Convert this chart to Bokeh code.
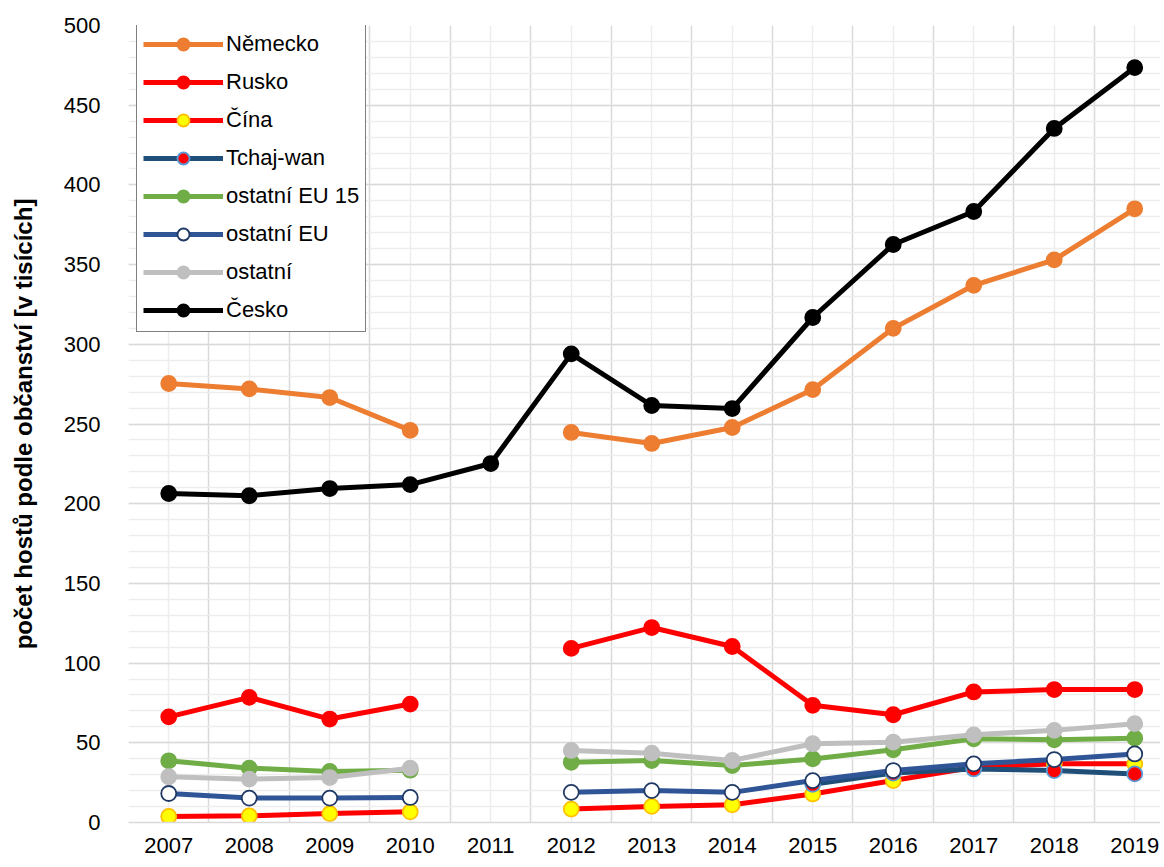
import math
from bokeh.plotting import figure
from bokeh.models import FixedTicker, Legend, LegendItem
from bokeh.embed import file_html
from bokeh.resources import INLINE

nan = float("nan")
years = list(range(2007, 2020))
tick_labels = [str(y) for y in years]

nemecko   = [275.4, 272.0, 266.6, 246.0, nan, 244.7, 237.8, 247.8, 271.6, 310.0, 337.0, 353.0, 385.0]
rusko     = [66.3, 78.5, 64.9, 74.3, nan, 109.2, 122.3, 110.4, 73.5, 67.6, 81.9, 83.4, 83.4]
cina      = [3.8, 4.2, 5.6, 6.7, nan, 8.4, 10.1, 11.1, 17.9, 26.3, 34.7, 36.8, 36.8]
tchajwan  = [nan, nan, nan, nan, nan, nan, nan, nan, 24.0, 31.0, 33.6, 32.6, 30.5]
eu15      = [38.7, 34.1, 32.0, 32.8, nan, 37.8, 38.9, 35.7, 39.9, 45.6, 52.5, 51.9, 52.9]
ostatni_eu = [18.2, 15.3, 15.3, 15.7, nan, 18.9, 20.0, 18.9, 26.3, 32.6, 36.8, 39.5, 43.0]
ostatni   = [28.7, 27.2, 28.2, 34.1, nan, 45.2, 43.5, 38.9, 49.4, 50.4, 55.0, 57.8, 62.0]
cesko     = [206.4, 205.0, 209.5, 212.0, 225.2, 294.0, 261.6, 259.7, 316.8, 362.6, 383.3, 435.4, 473.6]

series = [
    ("Německo", nemecko, "#ED7D31", "#ED7D31", "#ED7D31"),
    ("Rusko", rusko, "#FF0000", "#FF0000", "#FF0000"),
    ("Čína", cina, "#FF0000", "#FFFF00", "#FFC000"),
    ("Tchaj-wan", tchajwan, "#1F4E79", "#FF0000", "#5B9BD5"),
    ("ostatní EU 15", eu15, "#70AD47", "#70AD47", "#70AD47"),
    ("ostatní EU", ostatni_eu, "#2F5597", "#FFFFFF", "#1F3864"),
    ("ostatní", ostatni, "#BFBFBF", "#BFBFBF", "#BFBFBF"),
    ("Česko", cesko, "#000000", "#000000", "#000000"),
]

p = figure(width=1160, height=862, output_backend="svg", toolbar_location=None,
           x_range=(2006.5, 2019.32), y_range=(0, 500),
           min_border_left=128, min_border_top=25, min_border_bottom=40, min_border_right=0)
p.outline_line_color = None
p.background_fill_color = "white"

items = []
for name, vals, lc, fc, ec in series:
    r1 = p.line(years, vals, line_color=lc, line_width=5)
    r2 = p.scatter(years, vals, size=15, fill_color=fc, line_color=ec, line_width=1.8)
    items.append(LegendItem(label=name, renderers=[r1, r2]))

# axes
p.xaxis.ticker = FixedTicker(ticks=years)
p.xaxis.major_label_overrides = {y: s for y, s in zip(years, tick_labels)}
p.xaxis.axis_line_color = "#D9D9D9"
p.xaxis.axis_line_width = 1.5
p.xaxis.major_tick_line_color = None
p.xaxis.minor_tick_line_color = None
p.xaxis.major_label_text_font = "Liberation Sans"
p.xaxis.major_label_text_font_size = "22px"
p.xaxis.major_label_text_color = "#000000"
p.xaxis.major_label_standoff = 9

p.yaxis.ticker = FixedTicker(ticks=list(range(0, 501, 50)), minor_ticks=list(range(0, 501, 10)))
p.yaxis.axis_line_color = None
p.yaxis.major_tick_line_color = None
p.yaxis.minor_tick_line_color = None
p.yaxis.major_label_text_font = "Liberation Sans"
p.yaxis.major_label_text_font_size = "22px"
p.yaxis.major_label_text_color = "#000000"
p.yaxis.major_label_standoff = 22
p.yaxis.axis_label = "počet hostů podle občanství [v tisících]"
p.yaxis.axis_label_text_font = "Liberation Sans"
p.yaxis.axis_label_text_font_style = "bold"
p.yaxis.axis_label_text_font_size = "24px"
p.yaxis.axis_label_text_color = "#000000"
p.yaxis.axis_label_standoff = 24

# grids
half = [y - 0.5 for y in years] + [2019.5]
p.xgrid.ticker = FixedTicker(ticks=half, minor_ticks=years)
p.xgrid.grid_line_color = "#D9D9D9"
p.xgrid.grid_line_width = 1.5
p.xgrid.minor_grid_line_color = "#EDEDED"
p.xgrid.minor_grid_line_width = 1.5
p.ygrid.grid_line_color = "#D9D9D9"
p.ygrid.grid_line_width = 1.5
p.ygrid.minor_grid_line_color = "#EDEDED"
p.ygrid.minor_grid_line_width = 1.5

legend = Legend(items=items, location=(8, 490))
legend.border_line_color = "#000000"
legend.border_line_width = 1.5
legend.background_fill_color = "white"
legend.background_fill_alpha = 1
legend.label_text_font = "Liberation Sans"
legend.label_text_font_size = "22px"
legend.label_text_color = "#000000"
legend.glyph_width = 80
legend.glyph_height = 30
legend.label_height = 24
legend.spacing = 8
legend.padding = 6
legend.margin = 0
legend.label_standoff = 3
p.add_layout(legend, "center")

open("out.html", "w").write(file_html(p, INLINE))
